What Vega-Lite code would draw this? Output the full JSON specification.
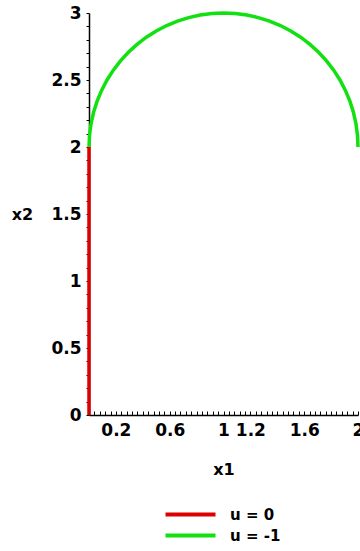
{
  "$schema": "https://vega.github.io/schema/vega-lite/v6.json",
  "width": 269,
  "height": 402,
  "autosize": {"type": "none"},
  "padding": {"left": 89, "top": 13, "right": 2, "bottom": 136},
  "background": "white",
  "config": {
    "view": {"stroke": null},
    "font": "DejaVu Sans",
    "axis": {
      "domainColor": "black",
      "domainWidth": 1.5,
      "tickColor": "black",
      "labelColor": "black",
      "labelFont": "DejaVu Sans",
      "labelFontWeight": "bold",
      "labelFontSize": 17,
      "titleFont": "DejaVu Sans",
      "titleFontWeight": "bold",
      "titleFontSize": 16,
      "titleColor": "black",
      "grid": false,
      "labelOverlap": false,
      "labelFlush": false
    }
  },
  "data": {
    "values": [
      {"u": "u = 0", "i": 0, "x1": 0, "x2": 0},
      {"u": "u = 0", "i": 1, "x1": 0, "x2": 2},
      {"u": "u = -1", "i": 0, "x1": 0, "x2": 2},
      {"u": "u = -1", "i": 1, "x1": 0.0038, "x2": 2.0872},
      {"u": "u = -1", "i": 2, "x1": 0.0152, "x2": 2.1736},
      {"u": "u = -1", "i": 3, "x1": 0.0341, "x2": 2.2588},
      {"u": "u = -1", "i": 4, "x1": 0.0603, "x2": 2.342},
      {"u": "u = -1", "i": 5, "x1": 0.0937, "x2": 2.4226},
      {"u": "u = -1", "i": 6, "x1": 0.134, "x2": 2.5},
      {"u": "u = -1", "i": 7, "x1": 0.1808, "x2": 2.5736},
      {"u": "u = -1", "i": 8, "x1": 0.234, "x2": 2.6428},
      {"u": "u = -1", "i": 9, "x1": 0.2929, "x2": 2.7071},
      {"u": "u = -1", "i": 10, "x1": 0.3572, "x2": 2.766},
      {"u": "u = -1", "i": 11, "x1": 0.4264, "x2": 2.8192},
      {"u": "u = -1", "i": 12, "x1": 0.5, "x2": 2.866},
      {"u": "u = -1", "i": 13, "x1": 0.5774, "x2": 2.9063},
      {"u": "u = -1", "i": 14, "x1": 0.658, "x2": 2.9397},
      {"u": "u = -1", "i": 15, "x1": 0.7412, "x2": 2.9659},
      {"u": "u = -1", "i": 16, "x1": 0.8264, "x2": 2.9848},
      {"u": "u = -1", "i": 17, "x1": 0.9128, "x2": 2.9962},
      {"u": "u = -1", "i": 18, "x1": 1, "x2": 3},
      {"u": "u = -1", "i": 19, "x1": 1.0872, "x2": 2.9962},
      {"u": "u = -1", "i": 20, "x1": 1.1736, "x2": 2.9848},
      {"u": "u = -1", "i": 21, "x1": 1.2588, "x2": 2.9659},
      {"u": "u = -1", "i": 22, "x1": 1.342, "x2": 2.9397},
      {"u": "u = -1", "i": 23, "x1": 1.4226, "x2": 2.9063},
      {"u": "u = -1", "i": 24, "x1": 1.5, "x2": 2.866},
      {"u": "u = -1", "i": 25, "x1": 1.5736, "x2": 2.8192},
      {"u": "u = -1", "i": 26, "x1": 1.6428, "x2": 2.766},
      {"u": "u = -1", "i": 27, "x1": 1.7071, "x2": 2.7071},
      {"u": "u = -1", "i": 28, "x1": 1.766, "x2": 2.6428},
      {"u": "u = -1", "i": 29, "x1": 1.8192, "x2": 2.5736},
      {"u": "u = -1", "i": 30, "x1": 1.866, "x2": 2.5},
      {"u": "u = -1", "i": 31, "x1": 1.9063, "x2": 2.4226},
      {"u": "u = -1", "i": 32, "x1": 1.9397, "x2": 2.342},
      {"u": "u = -1", "i": 33, "x1": 1.9659, "x2": 2.2588},
      {"u": "u = -1", "i": 34, "x1": 1.9848, "x2": 2.1736},
      {"u": "u = -1", "i": 35, "x1": 1.9962, "x2": 2.0872},
      {"u": "u = -1", "i": 36, "x1": 2, "x2": 2}
    ]
  },
  "mark": {"type": "line", "strokeWidth": 3.5, "clip": false, "strokeCap": "butt"},
  "encoding": {
    "x": {
      "field": "x1",
      "type": "quantitative",
      "scale": {"domain": [0, 2], "nice": false, "zero": false},
      "axis": {
        "title": "x1",
        "titleY": 54,
        "titleBaseline": "middle",
        "values": [0.04, 0.08, 0.12, 0.16, 0.2, 0.24, 0.28, 0.32, 0.36, 0.4, 0.44, 0.48, 0.52, 0.56, 0.6, 0.64, 0.68, 0.72, 0.76, 0.8, 0.84, 0.88, 0.92, 0.96, 1, 1.04, 1.08, 1.12, 1.16, 1.2, 1.24, 1.28, 1.32, 1.36, 1.4, 1.44, 1.48, 1.52, 1.56, 1.6, 1.64, 1.68, 1.72, 1.76, 1.8, 1.84, 1.88, 1.92, 1.96, 2],
        "labelExpr": "(round(datum.value*100) == 20 || round(datum.value*100) == 60 || round(datum.value*100) == 100 || round(datum.value*100) == 120 || round(datum.value*100) == 160 || round(datum.value*100) == 200) ? format(datum.value, '~g') : ''",
        "tickSize": -4,
        "labelPadding": 11
      }
    },
    "y": {
      "field": "x2",
      "type": "quantitative",
      "scale": {"domain": [0, 3], "nice": false, "zero": false},
      "axis": {
        "title": "x2",
        "titleAngle": 0,
        "titleX": -67,
        "titleY": 201,
        "titleAlign": "center",
        "titleBaseline": "middle",
        "values": [0, 0.1, 0.2, 0.3, 0.4, 0.5, 0.6, 0.7, 0.8, 0.9, 1, 1.1, 1.2, 1.3, 1.4, 1.5, 1.6, 1.7, 1.8, 1.9, 2, 2.1, 2.2, 2.3, 2.4, 2.5, 2.6, 2.7, 2.8, 2.9, 3],
        "labelExpr": "round(datum.value*10) % 5 == 0 ? format(datum.value, '~g') : ''",
        "tickSize": 3,
        "labelPadding": 5
      }
    },
    "color": {
      "field": "u",
      "type": "nominal",
      "scale": {"domain": ["u = 0", "u = -1"], "range": ["#dd0000", "#11e011"]},
      "legend": {
        "title": null,
        "orient": "none",
        "legendX": 94,
        "legendY": 494,
        "symbolType": "M-5,0H5",
        "symbolSize": 100,
        "symbolStrokeWidth": 4,
        "symbolFillColor": "transparent",
        "rowPadding": 4,
        "labelFont": "DejaVu Sans",
        "labelFontWeight": "bold",
        "labelFontSize": 15,
        "labelColor": "black",
        "labelOffset": 32
      }
    },
    "order": {"field": "i", "type": "quantitative"}
  }
}
